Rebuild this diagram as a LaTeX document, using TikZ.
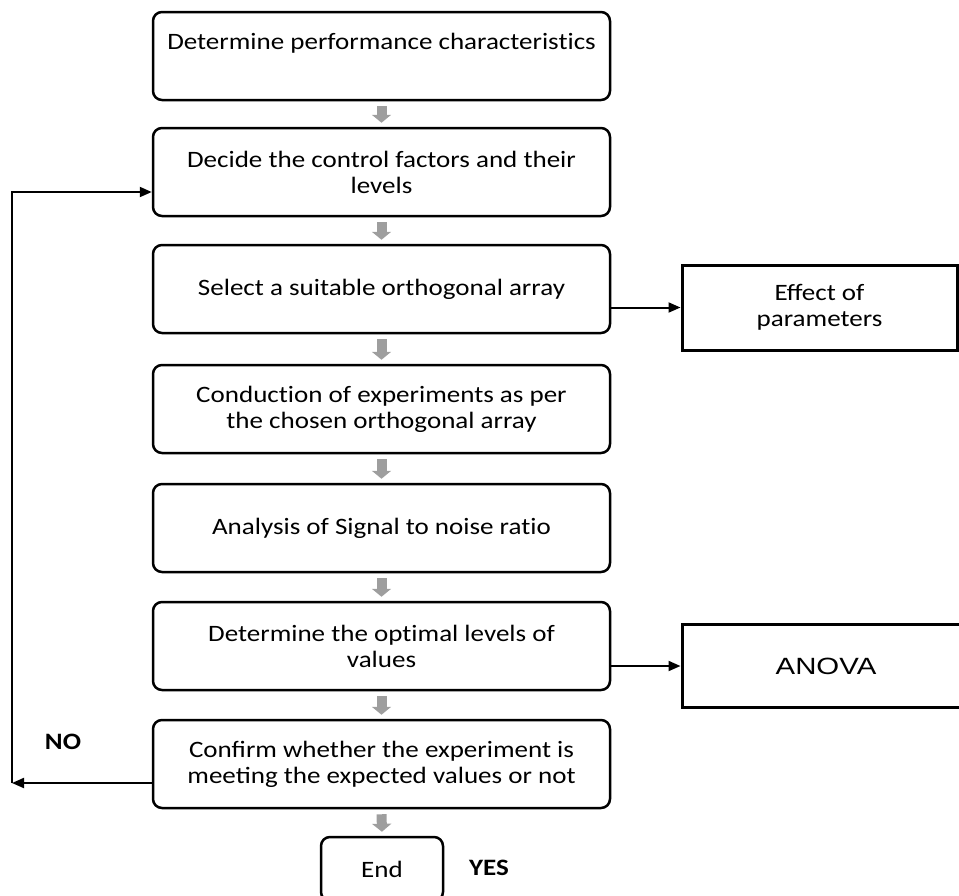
\documentclass[tikz,border=0pt]{standalone}
\usepackage{fontspec}
\setmainfont{Carlito}[FakeStretch=1.15]
\newfontfamily\anovafont{Liberation Sans}[FakeStretch=1.25]
\newcommand\tisep{\kern0pt}
\usetikzlibrary{arrows.meta}
\begin{document}
\begin{tikzpicture}[x=1pt,y=-1pt,
    stepbox/.style={draw,line width=2.5pt,rounded corners=9pt,minimum width=457pt,minimum height=88pt,align=center,font=\fontsize{23.5}{26}\selectfont},
    sidebox/.style={draw,line width=3pt,minimum width=275pt,minimum height=85pt,align=center,font=\fontsize{23.5}{26}\selectfont},
    steparrow/.style={black!38,line width=10pt,-{Triangle[width=19pt,length=8pt]},shorten <=5pt,shorten >=4pt},
    sidearrow/.style={line width=2pt,-{Triangle[width=10pt,length=12pt]}},
    answer/.style={font=\fontsize{23.5}{26}\selectfont\bfseries}]
    \useasboundingbox (0,0) rectangle (959,895);
    \node[stepbox] (b1) at (381.5,56) {Determine performance characterist\tisep ics\\[4pt]\mbox{}};
    \node[stepbox] (b2) at (381.5,172) {Decide the control factors and their\\levels};
    \node[stepbox] (b3) at (381.5,289) {Select a suitable orthogonal array};
    \node[stepbox] (b4) at (381.5,409) {Conduct\tisep ion of experiments as per\\the chosen orthogonal array};
    \node[stepbox] (b5) at (381.5,528) {Analysis of Signal to noise rat\tisep io};
    \node[stepbox] (b6) at (381.5,646) {Determine the opt\tisep imal levels of\\values};
    \node[stepbox] (b7) at (381.5,764) {Confirm whether the experiment is\\meeting the expected values or not};
    \node[stepbox,minimum width=122pt,minimum height=64pt] (endbox) at (382,869) {End};
    \node[sidebox] (effect) at (819.5,307.5) {Effect of\\parameters};
    \node[sidebox,minimum width=288pt,minimum height=83pt,font=\fontsize{23.5}{26}\anovafont] (anova) at (826,666) {ANOVA};
    \node[answer] (no) at (63,742) {NO};
    \node[answer] (yes) at (489,868) {YES};
    \coordinate (noturn) at (12,783);
    \coordinate (noup) at (12,192);
    \foreach \a/\b in {b1/b2,b2/b3,b3/b4,b4/b5,b5/b6,b6/b7,b7/endbox}
        \draw[steparrow] (\a.south) -- (\b.north);
    \draw[sidearrow] (b3.east |- effect.west) -- (effect.west);
    \draw[sidearrow] (b6.east |- anova.west) -- (anova.west);
    \draw[sidearrow] (b7.west |- noturn) -- (noturn);
    \draw[sidearrow] (noturn) -- (noup) -- (b2.west |- noup);
\end{tikzpicture}
\end{document}
